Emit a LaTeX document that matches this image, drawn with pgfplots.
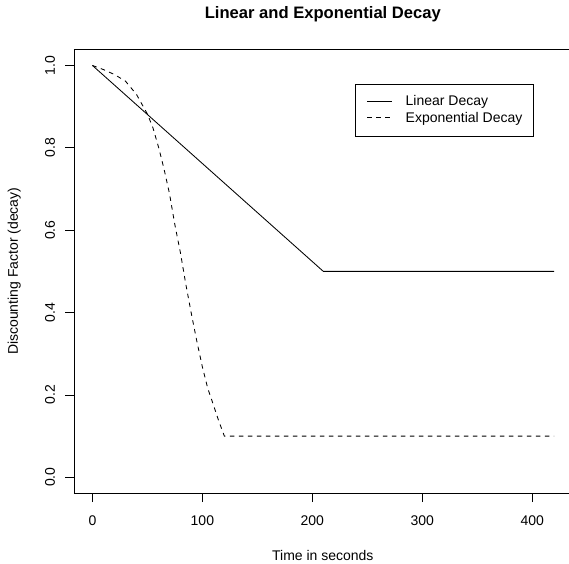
\documentclass[border=0pt]{standalone}
\usepackage{fontspec}
\setmainfont{Liberation Sans}
\usepackage{pgfplots}
\pgfplotsset{compat=1.18}
\usetikzlibrary{calc}

\begin{document}
\begin{tikzpicture}
\begin{axis}[
    scale only axis,
    width=495.3pt, height=445pt,
    xmin=-16.8, xmax=433.5,
    ymin=-0.04, ymax=1.04,
    axis x line*=box, axis y line*=left,
    axis line style={black, line width=0.8pt},
    xtick={0,100,200,300,400},
    ytick={0,0.2,0.4,0.6,0.8,1.0},
    xtick pos=bottom, ytick pos=left,
    tick align=outside,
    major tick length=8.5pt,
    tick style={black, line width=0.8pt},
    /pgf/number format/assume math mode=true,
    tick label style={font=\fontsize{14}{16}\selectfont},
    yticklabel style={/pgf/number format/fixed, /pgf/number format/fixed zerofill,
        /pgf/number format/precision=1, rotate=90, anchor=base},
    yticklabel shift=10.5pt,
    xticklabel style={anchor=base},
    xticklabel shift=23.2pt,
    title={Linear and Exponential Decay},
    every axis title/.style={at={(axis description cs:0.5027,1)}, anchor=base, yshift=30.5pt,
        font=\bfseries\fontsize{16.6}{20}\selectfont},
    xlabel={Time in seconds},
    every axis x label/.style={at={(axis description cs:0.5027,0)}, anchor=base, yshift=-67pt,
        font=\fontsize{14}{16}\selectfont},
    ylabel={Discounting Factor (decay)},
    every axis y label/.style={at={(axis description cs:0,0.5)}, rotate=90, anchor=base, yshift=56pt,
        font=\fontsize{14}{16}\selectfont},
    legend image code/.code={\draw[#1] (0pt,1.5pt) -- (25pt,1.5pt);},
    legend style={at={(axis cs:238.8,0.954)}, anchor=north west, draw=black, line width=0.8pt,
        inner xsep=11.5pt, inner ysep=11.2pt,
        font=\fontsize{14}{16}\selectfont,
        cells={anchor=west},
        nodes={inner sep=0pt, text height=10pt, text depth=3pt},
        column sep=13pt, row sep=3.6pt},
]
\addplot[black, line width=0.85pt] coordinates {(0,1) (210,0.5) (420,0.5)};
\addlegendentry{Linear Decay}
\addplot[black, line width=0.85pt, dash pattern=on 4.5pt off 4.5pt] coordinates {
    (0,1.0) (10,0.990) (20,0.978) (30,0.962) (40,0.930) (50,0.882) (55,0.849)
    (60,0.803) (65,0.750) (70,0.690) (75,0.613) (80,0.546) (85,0.468) (90,0.397)
    (95,0.330) (100,0.268) (105,0.215) (110,0.176) (115,0.136) (120,0.100) (420,0.100)};
\addlegendentry{Exponential Decay}
\end{axis}
\pgfresetboundingbox
\path ($(current axis.south west)+(-74pt,-70pt)$) rectangle ($(current axis.north east)+(0pt,49pt)$);
\end{tikzpicture}
\end{document}
